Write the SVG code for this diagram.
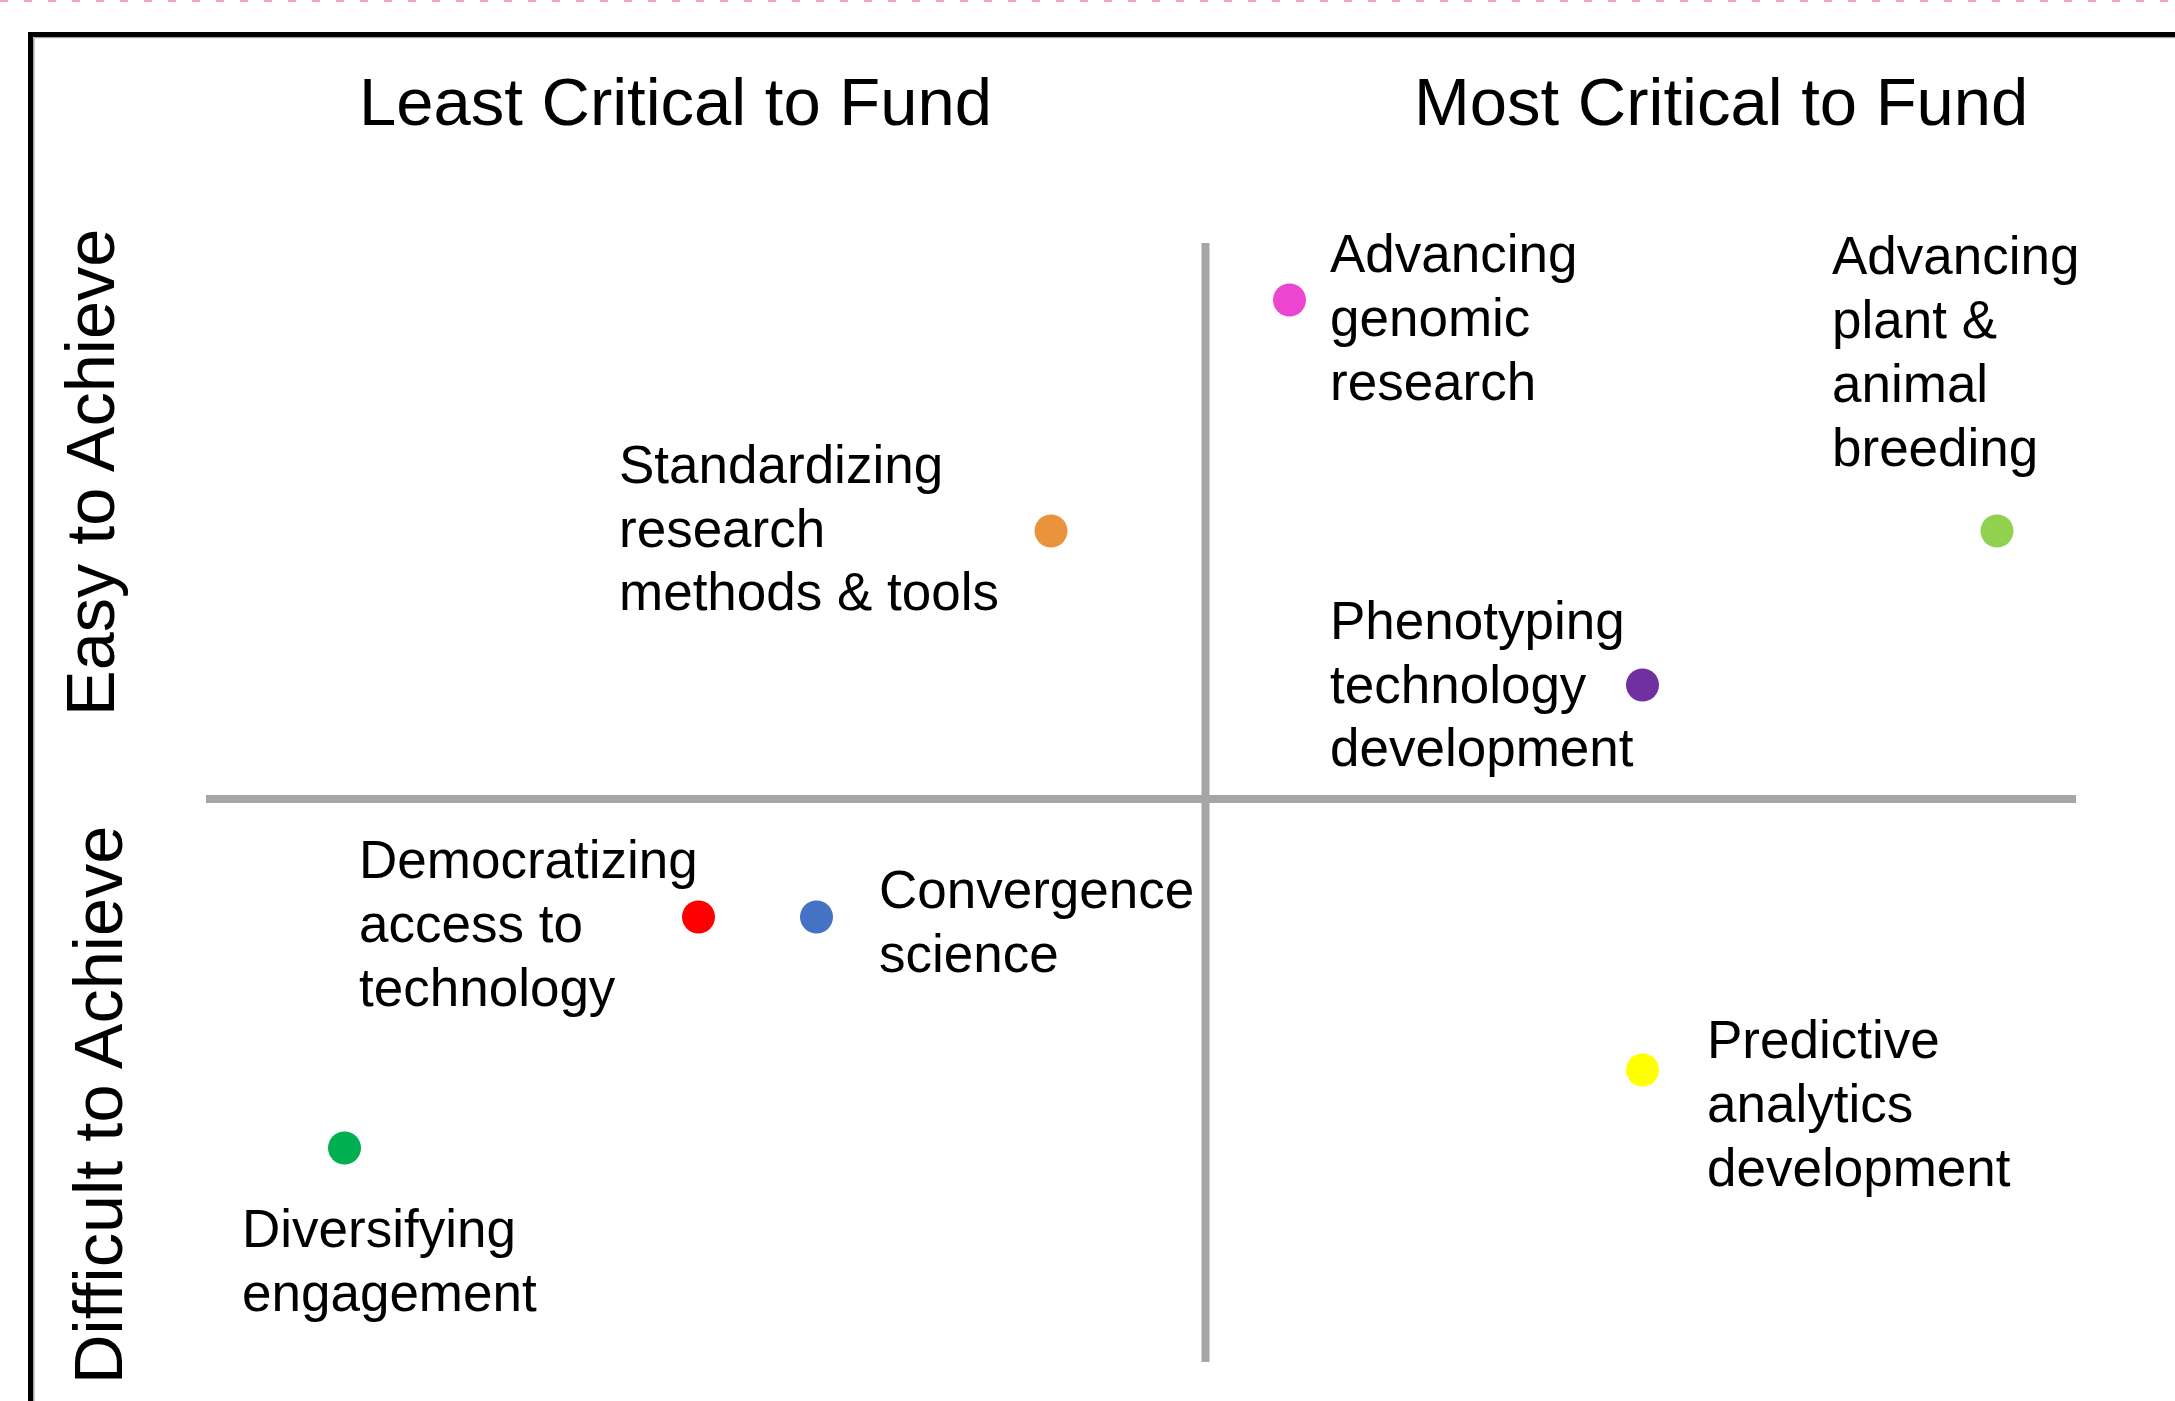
<svg xmlns="http://www.w3.org/2000/svg" width="2175" height="1401" viewBox="0 0 2175 1401">
<style>
.t{font-family:"Liberation Sans",Arial,sans-serif;fill:#000}
.h{font-size:67px}
.v{font-size:68.5px}
.l{font-size:53px}
.ax{stroke:#a6a6a6;stroke-width:8;fill:none}
</style>
<rect x="0" y="0" width="2175" height="1401" fill="#fff"/>
<line x1="0" y1="1" x2="2175" y2="1" stroke="#f6a2b8" stroke-width="2" stroke-dasharray="8 16"/>
<g id="frame">
<line x1="33.8" y1="37.5" x2="2175" y2="37.5" stroke="#a6a6a6" stroke-width="1.5"/>
<line x1="33.8" y1="37.5" x2="33.8" y2="1401" stroke="#a6a6a6" stroke-width="1.5"/>
<path d="M30.5 1401 V34.5 H2175" stroke="#000" stroke-width="5" fill="none"/>
</g>
<g id="headers">
<text class="t h" x="359" y="125">Least Critical to Fund</text>
<text class="t h" x="1414" y="125">Most Critical to Fund</text>
<text class="t v" transform="translate(114 716) rotate(-90)">Easy to Achieve</text>
<text class="t v" transform="translate(121.5 1384) rotate(-90)">Difficult to Achieve</text>
</g>
<g id="connectors">
<line class="ax" x1="206" y1="799" x2="2076" y2="799"/>
<line class="ax" x1="1205.5" y1="243" x2="1205.5" y2="1362"/>
</g>
<g id="standardizing">
<circle cx="1051" cy="531" r="16.5" fill="#e9943a"/>
<text class="t l"><tspan x="619" y="483">Standardizing</tspan><tspan x="619" y="547">research</tspan><tspan x="619" y="610">methods &amp; tools</tspan></text>
</g>
<g id="genomic">
<circle cx="1289.5" cy="300" r="16.5" fill="#ec45d0"/>
<text class="t l"><tspan x="1330" y="272">Advancing</tspan><tspan x="1330" y="336">genomic</tspan><tspan x="1330" y="400">research</tspan></text>
</g>
<g id="breeding">
<circle cx="1997" cy="531" r="16.5" fill="#92d050"/>
<text class="t l"><tspan x="1832" y="274">Advancing</tspan><tspan x="1832" y="338">plant &amp;</tspan><tspan x="1832" y="402">animal</tspan><tspan x="1832" y="466">breeding</tspan></text>
</g>
<g id="phenotyping">
<circle cx="1642.5" cy="685" r="16.5" fill="#7030a0"/>
<text class="t l"><tspan x="1330" y="639">Phenotyping</tspan><tspan x="1330" y="703">technology</tspan><tspan x="1330" y="766">development</tspan></text>
</g>
<g id="democratizing">
<circle cx="698.5" cy="917" r="16.5" fill="#ff0000"/>
<text class="t l"><tspan x="359" y="878">Democratizing</tspan><tspan x="359" y="942">access to</tspan><tspan x="359" y="1006">technology</tspan></text>
</g>
<g id="convergence">
<circle cx="816.5" cy="917" r="16.5" fill="#4472c4"/>
<text class="t l"><tspan x="879" y="908">Convergence</tspan><tspan x="879" y="972">science</tspan></text>
</g>
<g id="diversifying">
<circle cx="344.5" cy="1148" r="16.5" fill="#00b050"/>
<text class="t l"><tspan x="242" y="1247">Diversifying</tspan><tspan x="242" y="1311">engagement</tspan></text>
</g>
<g id="predictive">
<circle cx="1642.5" cy="1070" r="16.5" fill="#ffff00"/>
<text class="t l"><tspan x="1707" y="1058">Predictive</tspan><tspan x="1707" y="1122">analytics</tspan><tspan x="1707" y="1186">development</tspan></text>
</g>
</svg>
